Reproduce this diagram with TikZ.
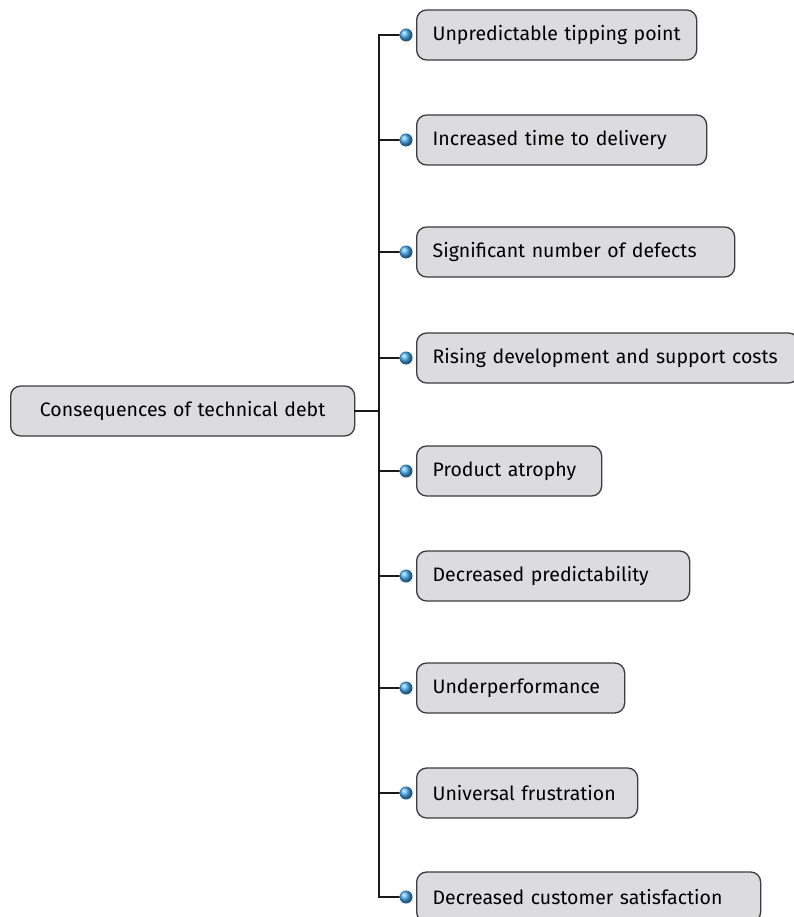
\documentclass[tikz,border=0pt]{standalone}
\usepackage{fontspec}
\setmainfont{Fira Sans}
\usetikzlibrary{shadings}
\definecolor{boxfill}{RGB}{220,220,222}
\definecolor{boxline}{RGB}{60,60,60}
\definecolor{linecol}{RGB}{25,25,25}
\definecolor{dotblue}{RGB}{70,170,240}
\tikzset{
  x=1pt, y=-1pt,
  itembox/.style={draw=boxline, line width=1.3pt, fill=boxfill, rounded corners=10pt,
    anchor=west, minimum height=50pt, inner xsep=0pt, inner ysep=0pt,
    font=\fontsize{19.5}{22}\selectfont},
  dotball/.style={circle, shading=ball, ball color=dotblue, minimum size=13pt, inner sep=0pt},
  conn/.style={draw=linecol, line width=2.8pt, line join=miter, line cap=rect},
}
\newcommand{\itemnode}[4]{% name, y, width, text
  \node[itembox, minimum width=#3pt, text width=#3pt-32pt, align=left, inner xsep=16pt] (#1) at (416,#2) {\mbox{#4}};
  \node[dotball] (d#1) at (406,#2) {};
}
\begin{document}
\begin{tikzpicture}
\clip (0,0) rectangle (794,917);
\fill[white] (0,0) rectangle (794,917);
\coordinate (j) at (379,411);
\foreach \yy in {35,140,252,358,471,576,688,793,897}{
  \coordinate (b\yy) at (406,\yy);
}
\node[itembox, minimum width=344pt, text width=312pt, align=center, inner xsep=16pt] (root) at (10,411) {Consequences of technical debt};
\draw[conn] (root.east) -- (j);
\draw[conn] (j) |- (b35);
\draw[conn] (j) |- (b140);
\draw[conn] (j) |- (b252);
\draw[conn] (j) |- (b358);
\draw[conn] (j) |- (b471);
\draw[conn] (j) |- (b576);
\draw[conn] (j) |- (b688);
\draw[conn] (j) |- (b793);
\draw[conn] (j) |- (b897);
\itemnode{a}{35}{280}{Unpredictable tipping point}
\itemnode{b}{140}{290}{Increased time to delivery}
\itemnode{c}{252}{318}{Significant number of defects}
\itemnode{d}{358}{382}{Rising development and support costs}
\itemnode{e}{471}{185}{Product atrophy}
\itemnode{f}{576}{273}{Decreased predictability}
\itemnode{g}{688}{208}{Underperformance}
\itemnode{h}{793}{221}{Universal frustration}
\itemnode{i}{897}{344}{Decreased customer satisfaction}
\end{tikzpicture}
\end{document}
